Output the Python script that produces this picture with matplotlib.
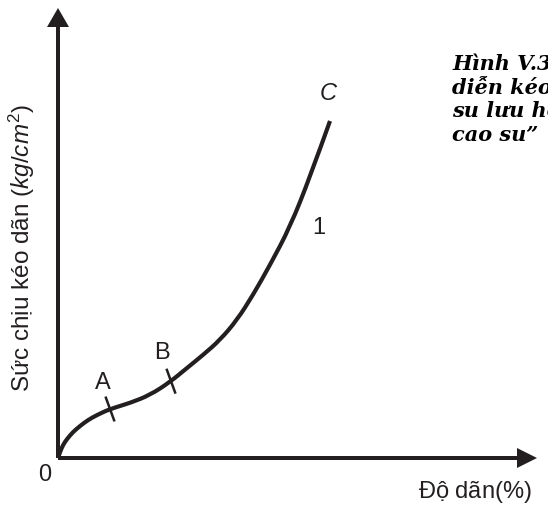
import numpy as np
import matplotlib
matplotlib.use("Agg")
import matplotlib.pyplot as plt
from matplotlib.path import Path
from matplotlib.patches import PathPatch

plt.rcParams["font.family"] = ["Liberation Sans", "DejaVu Sans"]
plt.rcParams["mathtext.fontset"] = "custom"
plt.rcParams["mathtext.rm"] = "Liberation Sans"
plt.rcParams["mathtext.it"] = "Liberation Sans:italic"

INK = "#231f20"

# curve 1 : elongation vs tensile stress (arbitrary units)
elongation = [0, 2, 5, 9, 15, 22, 30, 39, 52, 72, 92, 112, 129, 145, 162, 179, 195, 212, 232, 252, 272]
stress = [0, 6, 13, 19, 26, 32, 38, 43, 49, 55, 63, 76, 90, 103, 118, 138, 163, 193, 231, 281, 337]

# marked points on the curve
mark_names = ["A", "B"]
mark_x = [52, 113]
mark_label_pos = [(45, 75), (104, 105)]

caption_lines = ["Hình V.3 “Đường biểu", "diễn kéo dãn của cao", "su lưu hóa và", "cao su”"]

fig = plt.figure(figsize=(5.48, 5.09), dpi=100)
ax = fig.add_axes([0, 0, 1, 1])
ax.set_xlim(-58, 490)
ax.set_ylim(-51, 458)
ax.axis("off")

# axes with arrows
ax.arrow(0, 0, 0, 450, width=4, head_width=22, head_length=19,
         length_includes_head=True, color=INK, lw=0)
ax.arrow(0, 0, 479, 0, width=4, head_width=20, head_length=20,
         length_includes_head=True, color=INK, lw=0)

# smooth the polyline with quadratic bezier pieces (points act as control points)
pts = np.column_stack([elongation, stress]).astype(float)
verts = [pts[0]]
codes = [Path.MOVETO]
for i in range(1, len(pts) - 1):
    mid = (pts[i] + pts[i + 1]) / 2 if i < len(pts) - 2 else pts[i + 1]
    verts += [pts[i], mid]
    codes += [Path.CURVE3, Path.CURVE3]
ax.add_patch(PathPatch(Path(verts, codes), facecolor="none", edgecolor=INK, lw=3,
                       capstyle="butt", joinstyle="round"))

# small ticks across the curve at A and B
for name, mx, (lx, ly) in zip(mark_names, mark_x, mark_label_pos):
    my = np.interp(mx, elongation, stress)
    ang = np.radians(-70)
    half = 12
    dx, dy = half * np.cos(ang), half * np.sin(ang)
    ax.plot([mx - dx, mx + dx], [my - dy, my + dy], color=INK, lw=1.8)
    ax.text(lx, ly, name, fontsize=17, ha="center", va="center", color=INK)

ax.text(270, 365, "C", fontsize=17, style="italic", ha="center", va="center", color=INK)
ax.text(261, 230, "1", fontsize=17, ha="center", va="center", color=INK)
ax.text(-13, -17, "0", fontsize=17, ha="center", va="center", color=INK)

ax.text(-36, 210, "Sức chịu kéo dãn $\\mathit{(kg/cm^{\\mathrm{2}})}$", fontsize=17.5, rotation=90,
        ha="center", va="center", color=INK)
ax.text(417, -34, "Độ dãn$\\mathit{(\\%)}$", fontsize=17, ha="center", va="center", color=INK)

for i, line in enumerate(caption_lines):
    ax.text(394, 388 - i * 23.5, line, fontsize=15, family="DejaVu Serif",
            weight="bold", style="italic", ha="left", va="baseline", color="black")

fig.savefig("out.png", dpi=100)
